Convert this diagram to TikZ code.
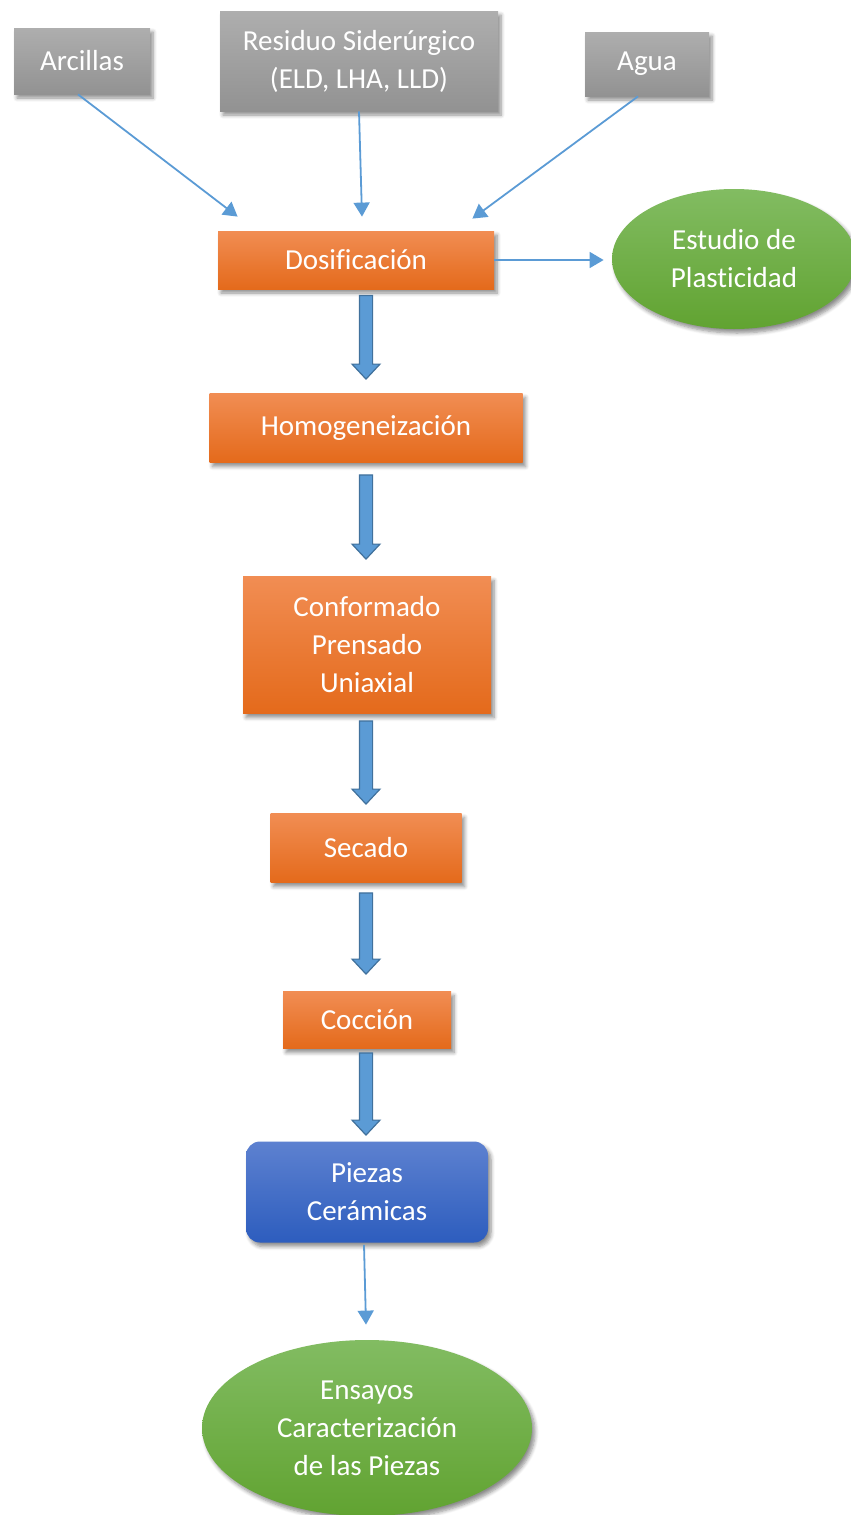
\documentclass[tikz,border=0pt]{standalone}
\usepackage{fontspec}
\setmainfont[Ligatures=NoCommon]{Carlito}
\usetikzlibrary{arrows.meta}
\usetikzlibrary{calc}
\usetikzlibrary{positioning}
\usetikzlibrary{shapes.geometric}
\usetikzlibrary{shadows.blur}

\definecolor{linkblue}{HTML}{5B9BD5}
\definecolor{arrowedge}{HTML}{41719C}
\definecolor{greytop}{HTML}{AEAEAE}
\definecolor{greybot}{HTML}{929292}
\definecolor{orangetop}{HTML}{F18D53}
\definecolor{orangebot}{HTML}{E46A1B}
\definecolor{greentop}{HTML}{82BC62}
\definecolor{greenbot}{HTML}{61A331}
\definecolor{bluetop}{HTML}{5D81D0}
\definecolor{bluebot}{HTML}{2D5DBE}

\tikzset{
  box/.style={rectangle, inner sep=0pt, text=white, align=center,
    font=\fontsize{14.5}{19}\selectfont,
    blur shadow={shadow xshift=1.5pt, shadow yshift=-2pt, shadow opacity=45, shadow blur steps=6}},
  source/.style={box, top color=greytop, bottom color=greybot},
  process/.style={box, top color=orangetop, bottom color=orangebot},
  result/.style={box, rounded corners=7pt, top color=bluetop, bottom color=bluebot},
  study/.style={box, ellipse, top color=greentop, bottom color=greenbot},
  feed/.style={->, draw=linkblue, line width=0.9pt},
  bigarrow/.style={draw=arrowedge, fill=linkblue, line width=0.6pt,
    to path={let \p1=(\tikztostart), \p2=(\tikztotarget) in
      (\x1-3.3pt,\y1) -- (\x1+3.3pt,\y1) -- (\x1+3.3pt,\y2+7.5pt) -- (\x1+7pt,\y2+7.5pt)
      -- (\x1,\y2) -- (\x1-7pt,\y2+7.5pt) -- (\x1-3.3pt,\y2+7.5pt) -- cycle}}
}

\begin{document}
\begin{tikzpicture}[x=0.5pt, y=-0.5pt, >={Triangle[length=7pt,width=8pt]}]
      \useasboundingbox (0,0) rectangle (851,1515);
      % materias primas
      \node[source, minimum width=68pt, minimum height=33pt]    (arc)  at (82,61)   {Arcillas};
      \node[source, minimum width=139pt, minimum height=50pt]   (res)  at (359,61)  {Residuo Siderúrgico\\(ELD, LHA, LLD)};
      \node[source, minimum width=62pt, minimum height=32pt]    (agua) at (647,64)  {Agua};
      % proceso
      \node[process, minimum width=138pt, minimum height=29pt]  (dos)  at (356,260) {Dosificación};
      \node[study, minimum width=122pt, minimum height=70pt]    (est)  at (734,259) {Estudio de\\Plasticidad};
      \node[process, minimum width=156.5pt, minimum height=34.5pt] (hom) at (366,428) {Homogeneización};
      \node[process, minimum width=124pt, minimum height=68.5pt] (conf) at (367,645) {Conformado\\Prensado\\Uniaxial};
      \node[process, minimum width=95.5pt, minimum height=34.5pt] (sec) at (366,848) {Secado};
      \node[process, minimum width=84pt, minimum height=28.5pt] (coc)  at (367,1020) {Cocción};
      \node[result, minimum width=121pt, minimum height=50.5pt] (pie)  at (367,1192) {Piezas\\Cerámicas};
      \node[study, minimum width=165pt, minimum height=88pt]    (ens)  at (367,1428) {Ensayos\\Caracterización\\de las Piezas};
      % entradas
      \draw[feed] ($(arc.south)+(-4,0)$) -- ($(dos.north west)+(20,-14)$);
      \draw[feed] (res.south) -- ($(dos.north)+(6,-14)$);
      \draw[feed] ($(agua.south)+(-9,0)$) -- ($(dos.north east)+(-22,-12)$);
      \draw[feed] (dos.east) -- ($(est.west)+(-8,1)$);
      % flujo principal
      \draw[bigarrow] ($(dos.south)+(10,6)$)  to ($(hom.north)+(0,-14)$);
      \draw[bigarrow] ($(hom.south)+(0,12)$)  to ($(conf.north)+(0,-17)$);
      \draw[bigarrow] ($(conf.south)+(-1,7)$) to ($(sec.north)+(0,-9)$);
      \draw[bigarrow] ($(sec.south)+(0,10)$)  to ($(coc.north)+(0,-17)$);
      \draw[bigarrow] ($(coc.south)+(-1,4)$)  to ($(pie.north)+(0,-6)$);
      \draw[feed] ($(pie.south)+(-3,2)$) -- ($(ens.north)+(-1,-15)$);
\end{tikzpicture}
\end{document}
